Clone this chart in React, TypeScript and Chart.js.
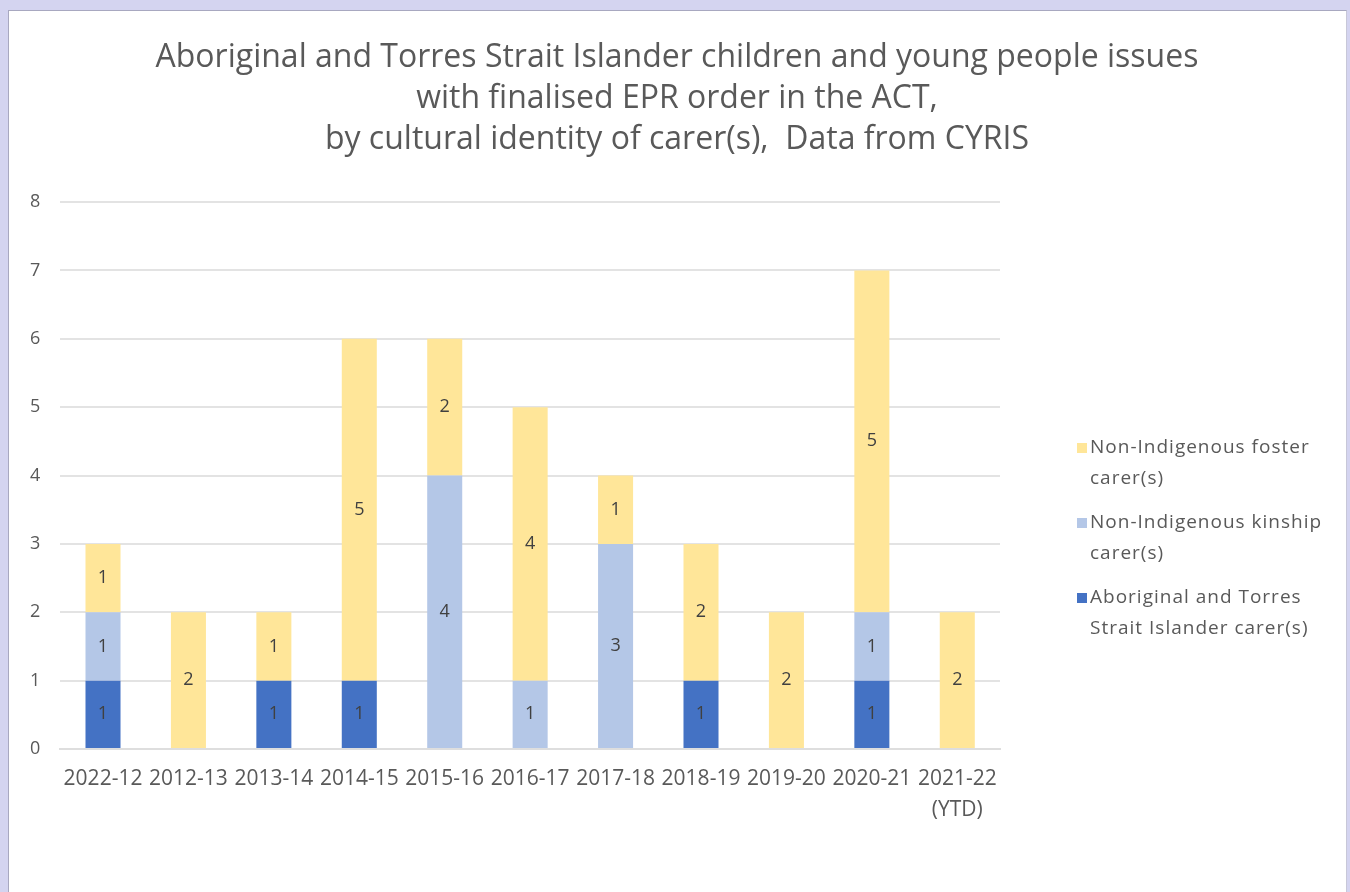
import React, { useEffect, useRef } from "react";
import { Chart, registerables } from "chart.js";

Chart.register(...registerables);

const categories: (string | string[])[] = [
  "2022-12", "2012-13", "2013-14", "2014-15", "2015-16", "2016-17",
  "2017-18", "2018-19", "2019-20", "2020-21", ["2021-22", "(YTD)"],
];
const aboriginalCarers = [1, 0, 1, 1, 0, 0, 0, 1, 0, 1, 0];
const kinshipCarers = [1, 0, 0, 0, 4, 1, 3, 0, 0, 1, 0];
const fosterCarers = [1, 2, 1, 5, 2, 4, 1, 2, 2, 5, 2];
const yTicks = [0, 1, 2, 3, 4, 5, 6, 7, 8];
const titleLines = [
  "Aboriginal and Torres Strait Islander children and young people issues",
  "with finalised EPR order in the ACT,",
  "by cultural identity of carer(s),  Data from CYRIS",
];
const legendItems = [
  { lines: ["Non-Indigenous foster", "carer(s)"], color: "#FFE699" },
  { lines: ["Non-Indigenous kinship", "carer(s)"], color: "#B4C7E7" },
  { lines: ["Aboriginal and Torres", "Strait Islander carer(s)"], color: "#4472C4" },
];

const FONT = "'Open Sans', sans-serif";
const TEXT = "#595959";

const titleDraw = {
  id: "titleDraw",
  afterDraw(chart: any) {
    const ctx = chart.ctx;
    ctx.save();
    ctx.font = `32px ${FONT}`;
    ctx.fillStyle = TEXT;
    ctx.textAlign = "center";
    ctx.textBaseline = "middle";
    titleLines.forEach((line, i) => {
      ctx.fillText(line, chart.width / 2, 47 + i * 41);
    });
    ctx.restore();
  },
};

const dataLabels = {
  id: "dataLabels",
  afterDatasetsDraw(chart: any) {
    const ctx = chart.ctx;
    ctx.save();
    ctx.font = `18px ${FONT}`;
    ctx.fillStyle = "#404040";
    ctx.textAlign = "center";
    ctx.textBaseline = "middle";
    chart.data.datasets.forEach((ds: any, i: number) => {
      const meta = chart.getDatasetMeta(i);
      meta.data.forEach((el: any, j: number) => {
        const v = ds.data[j];
        if (!v) return;
        ctx.fillText(String(v), el.x, (el.y + el.base) / 2);
      });
    });
    ctx.restore();
  },
};

const wrapLegend = {
  id: "wrapLegend",
  afterDraw(chart: any) {
    const ctx = chart.ctx;
    const area = chart.chartArea;
    const x0 = area.right + 77;
    let y = area.top + 246;
    ctx.save();
    ctx.font = `19px ${FONT}`;
    (ctx as any).letterSpacing = "1px";
    ctx.textBaseline = "middle";
    ctx.textAlign = "left";
    legendItems.forEach((item) => {
      ctx.fillStyle = item.color;
      ctx.fillRect(x0, y - 5, 10, 10);
      ctx.fillStyle = TEXT;
      item.lines.forEach((line, k) => {
        ctx.fillText(line, x0 + 13, y + k * 31);
      });
      y += 75;
    });
    ctx.restore();
  },
};

export default function App() {
  const ref = useRef<HTMLCanvasElement>(null);
  useEffect(() => {
    if (!ref.current) return;
    Chart.defaults.font.family = FONT;
    const chart = new Chart(ref.current, {
      type: "bar",
      data: {
        labels: categories,
        datasets: [
          { label: "Aboriginal and Torres Strait Islander carer(s)", data: aboriginalCarers, backgroundColor: "#4472C4", barPercentage: 0.41, categoryPercentage: 1 },
          { label: "Non-Indigenous kinship carer(s)", data: kinshipCarers, backgroundColor: "#B4C7E7", barPercentage: 0.41, categoryPercentage: 1 },
          { label: "Non-Indigenous foster carer(s)", data: fosterCarers, backgroundColor: "#FFE699", barPercentage: 0.41, categoryPercentage: 1 },
        ],
      },
      options: {
        animation: false,
        responsive: false,
        layout: { padding: { left: 1, right: 345, top: 191, bottom: 52 } },
        plugins: {
          legend: { display: false },
          tooltip: { enabled: false },
          title: { display: false },
        },
        scales: {
          x: {
            stacked: true,
            grid: { display: false, drawTicks: false },
            border: { color: "#dedede", width: 2 },
            ticks: { color: TEXT, font: { size: 21, lineHeight: 1.5 }, padding: 14, maxRotation: 0, autoSkip: false },
          },
          y: {
            stacked: true,
            min: 0,
            max: 8,
            afterBuildTicks: (axis: any) => {
              axis.ticks = yTicks.map((v) => ({ value: v }));
            },
            grid: { color: "#e3e3e3", lineWidth: 2, drawTicks: false },
            border: { display: false },
            ticks: { color: TEXT, font: { size: 18 }, padding: 20 },
          },
        },
      },
      plugins: [dataLabels, wrapLegend, titleDraw],
    });
    return () => chart.destroy();
  }, []);

  return (
    <div style={{ position: "fixed", left: 0, top: 0, width: 1350, height: 892, background: "#D4D4F0" }}>
      <div style={{ position: "absolute", left: 8, top: 10, width: 1337, height: 882, background: "#fff", borderLeft: "1px solid #a8a8c0", borderTop: "1px solid #a8a8c0", borderRight: "1px solid #c8c8d8" }}>
        <canvas ref={ref} width={1336} height={881} style={{ display: "block" }} />
      </div>
    </div>
  );
}
